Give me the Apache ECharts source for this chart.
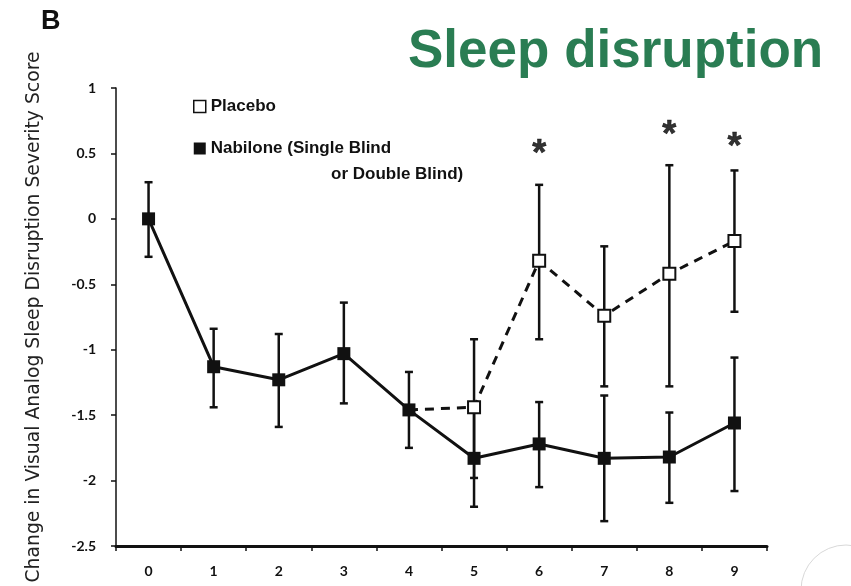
<!DOCTYPE html>
<html><head><meta charset="utf-8">
<script src="https://cdn.jsdelivr.net/npm/echarts@6/dist/echarts.min.js"></script>
<style>html,body{margin:0;padding:0;background:#fff}#c{width:851px;height:586px}</style>
</head><body><div id="c"></div>
<script>
var weeks = ['0','1','2','3','4','5','6','7','8','9'];
var yTicks = [-2.5,-2,-1.5,-1,-0.5,0,0.5,1];
var nabiloneMean = [0, -1.13, -1.23, -1.03, -1.46, -1.83, -1.72, -1.83, -1.82, -1.56];
var nabiloneLow  = [-0.29, -1.44, -1.59, -1.41, -1.75, -2.20, -2.05, -2.31, -2.17, -2.08];
var nabiloneHigh = [0.28, -0.84, -0.88, -0.64, -1.17, -1.46, -1.40, -1.35, -1.48, -1.06];
var placeboMean = [null, null, null, null, -1.46, -1.44, -0.32, -0.74, -0.42, -0.17];
var placeboLow  = [null, null, null, null, null, -1.98, -0.92, -1.28, -1.28, -0.71];
var placeboHigh = [null, null, null, null, null, -0.92, 0.26, -0.21, 0.41, 0.37];
var starWeeks = ['6','8','9'];
var starY = [0.49, 0.63, 0.54];

function errData(low, high){
  var out = [];
  for (var i=0;i<weeks.length;i++){ if (low[i]!=null) out.push([i, low[i], high[i]]); }
  return out;
}
function errRender(params, api){
  var x = api.value(0);
  var lo = api.coord([x, api.value(1)]);
  var hi = api.coord([x, api.value(2)]);
  var w = 4;
  var st = {stroke:'#111', lineWidth:2.5};
  return {type:'group', children:[
    {type:'line', shape:{x1:lo[0],y1:lo[1],x2:hi[0],y2:hi[1]}, style:st},
    {type:'line', shape:{x1:lo[0]-w,y1:lo[1],x2:lo[0]+w,y2:lo[1]}, style:st},
    {type:'line', shape:{x1:hi[0]-w,y1:hi[1],x2:hi[0]+w,y2:hi[1]}, style:st}
  ]};
}
var placeboData = placeboMean.map(function(v,i){
  return (i===4) ? {value:v, symbol:'none'} : v;
});

var chart = echarts.init(document.getElementById('c'));
chart.setOption({
  animation:false,
  grid:{left:116, right:84, top:88, bottom:40, outerBoundsMode:'none', containLabel:false},
  legend:{
    orient:'vertical', left:188, top:93, itemWidth:12, itemHeight:12, itemGap:25,
    textStyle:{fontFamily:'Liberation Sans', fontWeight:'bold', fontSize:17, color:'#111'},
    data:[
      {name:'Placebo', icon:'rect', itemStyle:{color:'#fff', borderColor:'#111', borderWidth:1.5}},
      {name:'Nabilone (Single Blind or Double Blind)', icon:'rect', itemStyle:{color:'#111'}}
    ],
    formatter:function(n){ return n==='Placebo' ? n : 'Nabilone (Single Blind'; }
  },
  graphic:[
    {type:'text', left:41, top:8, style:{text:'B', font:'bold 27px "Liberation Sans"', fill:'#111'}},
    {type:'text', left:408, top:26, style:{text:'Sleep disruption', font:'bold 53px "Liberation Sans"', fill:'#2a7d53'}},
    {type:'text', left:331, top:166, style:{text:'or Double Blind)', font:'bold 17px "Liberation Sans"', fill:'#111'}},
    {type:'circle', shape:{cx:846, cy:590, r:45}, style:{fill:'none', stroke:'#d8d8d8', lineWidth:1}, silent:true}
  ],
  xAxis:{
    type:'category', data:weeks, boundaryGap:true,
    axisLine:{onZero:false, lineStyle:{color:'#111', width:3}},
    axisTick:{show:true, length:5, lineStyle:{color:'#111', width:1.5}},
    axisLabel:{margin:18, fontFamily:'Lato', fontWeight:'bold', fontSize:14, color:'#111'},
    splitLine:{show:false}
  },
  yAxis:{
    type:'value', min:-2.5, max:1, interval:0.5,
    name:'Change in Visual Analog Sleep Disruption Severity Score',
    nameLocation:'middle', nameGap:72, nameRotate:90,
    nameTextStyle:{fontFamily:'DejaVu Sans', fontSize:18.8, color:'#222'},
    axisLine:{show:true, lineStyle:{color:'#111', width:1.5}},
    axisTick:{show:true, length:5, lineStyle:{color:'#111', width:1.5}},
    axisLabel:{margin:20, fontFamily:'Lato', fontWeight:'bold', fontSize:14, color:'#111',
      formatter:function(v){ return String(v); }},
    splitLine:{show:false}
  },
  series:[
    {type:'custom', name:'err-n', renderItem:errRender, data:errData(nabiloneLow, nabiloneHigh), z:2, silent:true},
    {type:'custom', name:'err-p', renderItem:errRender, data:errData(placeboLow, placeboHigh), z:2, silent:true},
    {type:'line', name:'Placebo', data:placeboData, symbol:'rect', symbolSize:12,
      lineStyle:{color:'#111', width:3, type:[9,7]},
      itemStyle:{color:'#fff', borderColor:'#111', borderWidth:2}, z:3},
    {type:'line', name:'Nabilone (Single Blind or Double Blind)', data:nabiloneMean, symbol:'rect', symbolSize:13,
      lineStyle:{color:'#111', width:3}, itemStyle:{color:'#111'}, z:4},
    {type:'scatter', name:'sig', data:starWeeks.map(function(w,i){return [w, starY[i]];}),
      symbolSize:1, itemStyle:{color:'rgba(0,0,0,0)'},
      label:{show:true, position:'inside', formatter:'*', fontFamily:'Liberation Sans', fontWeight:'bold', fontSize:36,
        color:'#000', textBorderColor:'#000', textBorderWidth:0.6}, z:5}
  ]
});
</script></body></html>
